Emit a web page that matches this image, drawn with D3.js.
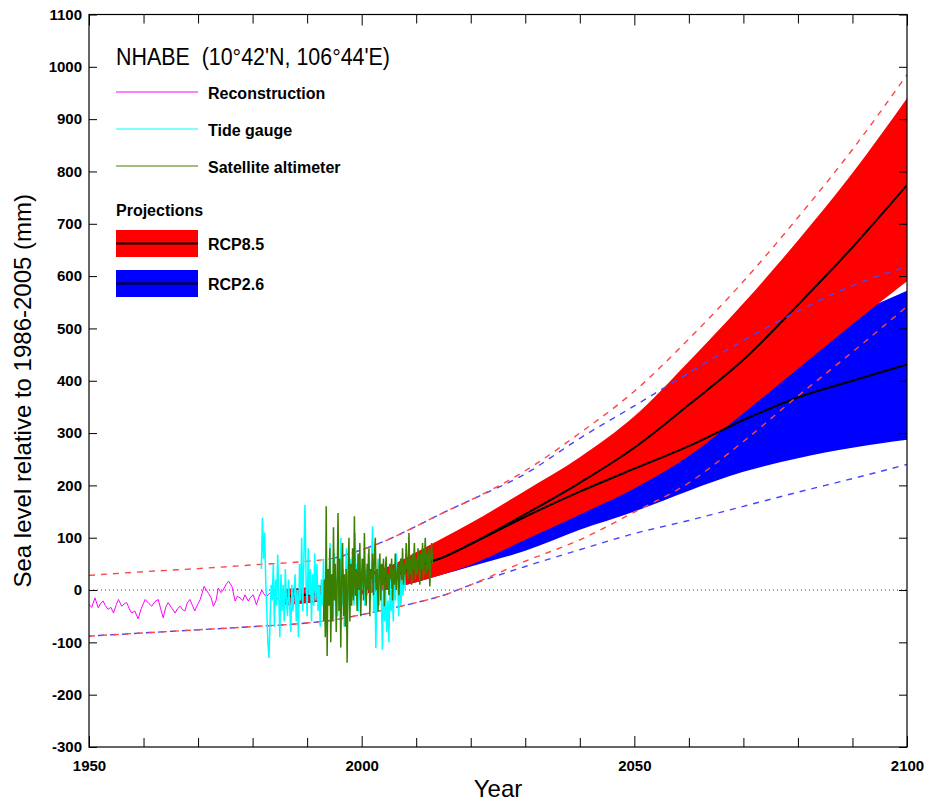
<!DOCTYPE html>
<html lang="en">
<head>
<meta charset="UTF-8">
<title>NHABE sea level</title>
<script src="https://cdnjs.cloudflare.com/ajax/libs/d3/7.8.5/d3.min.js"></script>
<style>
    body { margin: 0; background: #fff; }
    svg { display: block; font-family: "Liberation Sans", Arial, sans-serif; }
    .tick text { font-size: 15px; font-weight: bold; fill: #000; }
    .tick line { stroke: #000; }
    .domain { display: none; }
</style>
</head>
<body>
<div id="chart"></div>
<script>
// reconstruction (magenta), mm
const reconYears = [1950.0, 1950.5, 1951.1, 1951.7, 1952.1, 1952.6, 1953.0, 1953.5, 1954.0, 1954.5,
    1955.0, 1955.4, 1956.0, 1956.5, 1956.9, 1957.4, 1957.8, 1958.4, 1959.0, 1959.6,
    1960.3, 1960.9, 1961.5, 1962.1, 1962.7, 1963.2, 1963.6, 1964.1, 1964.5, 1965.2,
    1965.8, 1966.2, 1966.7, 1967.2, 1967.6, 1968.0, 1968.5, 1969.0, 1969.4, 1969.9,
    1970.4, 1970.8, 1971.1, 1971.5, 1971.9, 1972.4, 1972.8, 1973.3, 1973.7, 1974.2,
    1974.6, 1975.1, 1975.6, 1976.2, 1976.8, 1977.2, 1977.7, 1978.2, 1978.6, 1979.2,
    1979.6, 1980.1, 1980.7, 1981.2, 1981.7, 1982.1, 1982.6, 1983.2, 1983.8, 1984.5,
    1985.2, 1986.0, 1986.7, 1987.5, 1988.2, 1989.0, 1989.9, 1990.6, 1991.4, 1992.2, 1993.0];
const reconMm = [-28, -33, -15, -34, -26, -21, -30, -37, -33, -44,
    -28, -18, -31, -26, -24, -36, -44, -40, -55, -35,
    -18, -25, -31, -22, -18, -38, -53, -32, -24, -35,
    -44, -36, -31, -38, -40, -25, -18, -30, -40, -28,
    -18, -4, 7, 0, -6, -15, -31, -20, 4, -5,
    0, 10, 17, 7, -21, -12, -15, -20, -9, -21,
    -14, -9, -28, -12, 0, -8, -12, -5, 0, -15,
    -25, -20, -30, -18, -25, -5, 0, -10, -15, -20, -12];

// tide gauge (cyan), every 0.2 yr from 1981.6
const tideStart = 1981.6, tideStep = 0.2;
const tideMm = [40, 138, 60, 110, 20, -40, -100, -130, -60, 10,
    -20, 50, -70, 20, -30, 68, -10, -90, 30, -40,
    10, -60, 40, -20, -50, 20, -30, -80, 10, -40,
    -10, 30, -60, 0, -90, 50, -20, 100, -40, 60,
    163, 20, -50, 80, -10, 40, -60, 30, -30, 70,
    -20, 50, -40, 10, -70, 20, -30, 60, -50, 0,
    -80, 40, -20, 90, -40, 30, -60, 70, -10, 20,
    -50, 60, -20, 100, -30, 40, -70, 10, 80, -20,
    30, -40, 60, -10, 20, -30, 109, 0, 50, -40,
    20, -20, 60, 0, 30, -30, 40, -10, 70, 20,
    -20, 50, 122, -40, 30, -111, 10, 60, -30, 40,
    -10, -114, 17, -60, 0, -80, -20, -100, 30, -40,
    0, -60, 40, -20, 70, 10, -50, 30, -30, 20,
    -10, 40, 0];

// satellite altimeter (green), every 1/6 yr from 1993.0
const satStart = 1993.0, satStep = 1 / 6;
const satMm = [-60, 20, -90, 160, -126, 40,
    -30, 80, -100, 30, -60, 120,
    -20, 50, -80, 10, 147, -40,
    60, -110, 20, 90, -50, 30,
    -70, 40, -139, 20, 100, -60,
    50, -30, 80, -20, 141, -10,
    40, -40, 70, 0, 90, -50,
    30, 60, -20, 109, 10, -30,
    50, 0, 80, -50, 40, 20,
    70, -10, 60, 100, 0, 40,
    -40, 30, 70, -20, 50, 10,
    60, -31, 40, 64, 0, 30,
    -10, 50, 20, 60, -20, 40,
    10, 70, 0, 30, 50, -10,
    40, 60, 20, 80, 10, 50,
    30, 90, 40, 20, 109, 30,
    60, 10, 70, 40, 90, 20,
    60, 30, 80, 50, 10, 70,
    40, 90, 20, 60, 100, 30,
    70, 40, 80, 7, 60, 90,
    50];

// projections: median and likely range
const projYears = [1986, 1990, 1995, 2000, 2005, 2010, 2015, 2020, 2030, 2040, 2050, 2060, 2070, 2080, 2090, 2100];
const rcp85Mid = [-12, -9, -3, 10, 25, 45, 63, 88, 145, 205, 272, 354, 440, 545, 655, 774];
const rcp85Lo = [-28, -25, -18, -8, 2, 15, 30, 48, 96, 144, 194, 256, 338, 423, 508, 590];
const rcp85Hi = [2, 5, 14, 28, 45, 72, 100, 128, 190, 254, 332, 437, 548, 668, 797, 940];
const rcp26Mid = [-12, -9, -3, 10, 25, 45, 63, 88, 140, 188, 232, 275, 325, 368, 400, 431];
const rcp26Lo = [-28, -25, -18, -8, 2, 15, 30, 45, 75, 115, 150, 190, 226, 252, 272, 287];
const rcp26Hi = [2, 5, 14, 28, 45, 70, 95, 120, 170, 230, 290, 350, 410, 470, 525, 572];

// outer envelopes (dashed)
const dashYears = [1950, 1960, 1970, 1980, 1990, 1995, 2000, 2005, 2010, 2015, 2020, 2030, 2040, 2050, 2060, 2070, 2080, 2090, 2100];
const rcp85DashHi = [28, 35, 41, 48, 55, 61, 77, 97, 122, 148, 172, 228, 300, 380, 480, 590, 712, 842, 985];
const rcp85DashLo = [-88, -82, -76, -70, -63, -57, -47, -36, -24, -10, 10, 55, 96, 149, 205, 284, 371, 455, 542];
const rcp26DashHi = [null, null, null, null, null, 61, 77, 97, 122, 148, 172, 222, 290, 352, 415, 477, 533, 582, 618];
const rcp26DashLo = [-88, -82, -76, -70, -63, -57, -47, -36, -24, -10, 10, 45, 77, 108, 133, 160, 187, 213, 240];

const yTicks = d3.range(-300, 1101, 100);
const xTicks = d3.range(1950, 2101, 10);

const width = 938, height = 804;
const svg = d3.select("#chart").append("svg")
    .attr("width", width)
    .attr("height", height);

const x = d3.scaleLinear().domain([1950, 2100]).range([89, 907]);
const y = d3.scaleLinear().domain([-300, 1100]).range([747, 14.5]);

svg.append("clipPath").attr("id", "plot")
    .append("rect")
    .attr("x", x(1950)).attr("y", y(1100))
    .attr("width", x(2100) - x(1950)).attr("height", y(-300) - y(1100));

const plot = svg.append("g").attr("clip-path", "url(#plot)");

// zero line
plot.append("line")
    .attr("x1", x(1950)).attr("x2", x(2100))
    .attr("y1", y(0)).attr("y2", y(0))
    .attr("stroke", "#444")
    .attr("stroke-width", 1)
    .attr("stroke-dasharray", "1,3");

const band = d3.area()
    .curve(d3.curveMonotoneX)
    .x(d => x(d[0]))
    .y0(d => y(d[1]))
    .y1(d => y(d[2]));
const line = d3.line()
    .defined(d => d[1] != null)
    .x(d => x(d[0]))
    .y(d => y(d[1]));

plot.append("path")
    .datum(d3.zip(projYears, rcp26Lo, rcp26Hi))
    .attr("fill", "#0000ff")
    .attr("d", band);
plot.append("path")
    .datum(d3.zip(projYears, rcp85Lo, rcp85Hi))
    .attr("fill", "#ff0000")
    .attr("d", band);

const smooth = d3.line().curve(d3.curveMonotoneX).x(d => x(d[0])).y(d => y(d[1]));
[rcp26Mid, rcp85Mid].forEach(mid => {
    plot.append("path")
        .datum(d3.zip(projYears, mid))
        .attr("fill", "none")
        .attr("stroke", "#000")
        .attr("stroke-width", 2)
        .attr("d", smooth);
});

const dashed = [
    { vals: rcp26DashHi, color: "#4646ff", offset: 3 },
    { vals: rcp26DashLo, color: "#4646ff", offset: 3 },
    { vals: rcp85DashHi, color: "#ff4646", offset: 0 },
    { vals: rcp85DashLo, color: "#ff4646", offset: 0 }
];
const dashLine = d3.line()
    .defined(d => d[1] != null)
    .curve(d3.curveMonotoneX)
    .x(d => x(d[0]))
    .y(d => y(d[1]));
dashed.forEach(s => {
    plot.append("path")
        .datum(d3.zip(dashYears, s.vals))
        .attr("fill", "none")
        .attr("stroke", s.color)
        .attr("stroke-width", 1.4)
        .attr("stroke-dasharray", "6,6")
        .attr("stroke-dashoffset", s.offset)
        .attr("d", dashLine);
});

// observations
plot.append("path")
    .datum(d3.zip(reconYears, reconMm))
    .attr("fill", "none")
    .attr("stroke", "#ff00ff")
    .attr("stroke-width", 1)
    .attr("d", line);

plot.append("path")
    .datum(tideMm.map((v, i) => [tideStart + i * tideStep, v]))
    .attr("fill", "none")
    .attr("stroke", "#00ffff")
    .attr("stroke-width", 1.5)
    .attr("d", line);

plot.append("path")
    .datum(satMm.map((v, i) => [satStart + i * satStep, v]))
    .attr("fill", "none")
    .attr("stroke", "#3c7f00")
    .attr("stroke-width", 1.5)
    .attr("d", line);

// axes
svg.append("g")
    .attr("transform", `translate(0,${y(-300)})`)
    .call(d3.axisBottom(x).tickValues(xTicks).tickSizeInner(-9).tickSizeOuter(0)
        .tickPadding(13).tickFormat(d => d % 50 === 0 ? d : ""))
    .selectAll(".tick line").attr("y2", d => d % 50 === 0 ? -11 : -9);

svg.append("g")
    .attr("transform", `translate(0,${y(1100)})`)
    .call(d3.axisTop(x).tickValues(xTicks).tickSizeInner(-9).tickSizeOuter(0).tickFormat(""))
    .selectAll(".tick line").attr("y2", d => d % 50 === 0 ? 11 : 9);

svg.append("g")
    .attr("transform", `translate(${x(1950)},0)`)
    .call(d3.axisLeft(y).tickValues(yTicks).tickSizeInner(-8).tickSizeOuter(0)
        .tickPadding(7).tickFormat(d => String(d)));

svg.append("g")
    .attr("transform", `translate(${x(2100)},0)`)
    .call(d3.axisRight(y).tickValues(yTicks).tickSizeInner(-8).tickSizeOuter(0).tickFormat(""));

svg.append("rect")
    .attr("x", x(1950)).attr("y", y(1100))
    .attr("width", x(2100) - x(1950)).attr("height", y(-300) - y(1100))
    .attr("fill", "none")
    .attr("stroke", "#000")
    .attr("stroke-width", 1.2);

svg.append("text")
    .attr("transform", `translate(31,${(y(-300) + y(1100)) / 2 + 10}) rotate(-90)`)
    .attr("text-anchor", "middle")
    .attr("font-size", 24)
    .text("Sea level relative to 1986-2005 (mm)");

svg.append("text")
    .attr("x", (x(1950) + x(2100)) / 2)
    .attr("y", 797)
    .attr("text-anchor", "middle")
    .attr("font-size", 24)
    .text("Year");

// legend
const lg = svg.append("g");
lg.append("text")
    .attr("x", 116).attr("y", 65)
    .attr("font-size", 23)
    .attr("xml:space", "preserve")
    .attr("textLength", 274)
    .attr("lengthAdjust", "spacingAndGlyphs")
    .text("NHABE  (10°42'N, 106°44'E)");

const obsLegend = [
    { label: "Reconstruction", color: "#ff00ff", y: 92 },
    { label: "Tide gauge", color: "#00ffff", y: 129 },
    { label: "Satellite altimeter", color: "#3c7f00", y: 166 }
];
obsLegend.forEach(d => {
    lg.append("line")
        .attr("x1", 116).attr("x2", 198)
        .attr("y1", d.y).attr("y2", d.y)
        .attr("stroke", d.color)
        .attr("stroke-width", 1);
    lg.append("text")
        .attr("x", 208).attr("y", d.y + 7)
        .attr("font-size", 16)
        .attr("font-weight", "bold")
        .text(d.label);
});

lg.append("text")
    .attr("x", 116).attr("y", 216)
    .attr("font-size", 16)
    .attr("font-weight", "bold")
    .text("Projections");

const projLegend = [
    { label: "RCP8.5", color: "#ff0000", y: 230 },
    { label: "RCP2.6", color: "#0000ff", y: 270 }
];
projLegend.forEach(d => {
    lg.append("rect")
        .attr("x", 116).attr("y", d.y)
        .attr("width", 82).attr("height", 27)
        .attr("fill", d.color);
    lg.append("line")
        .attr("x1", 116).attr("x2", 198)
        .attr("y1", d.y + 13.5).attr("y2", d.y + 13.5)
        .attr("stroke", "#000")
        .attr("stroke-width", 2);
    lg.append("text")
        .attr("x", 208).attr("y", d.y + 20)
        .attr("font-size", 16)
        .attr("font-weight", "bold")
        .text(d.label);
});
</script>
</body>
</html>
